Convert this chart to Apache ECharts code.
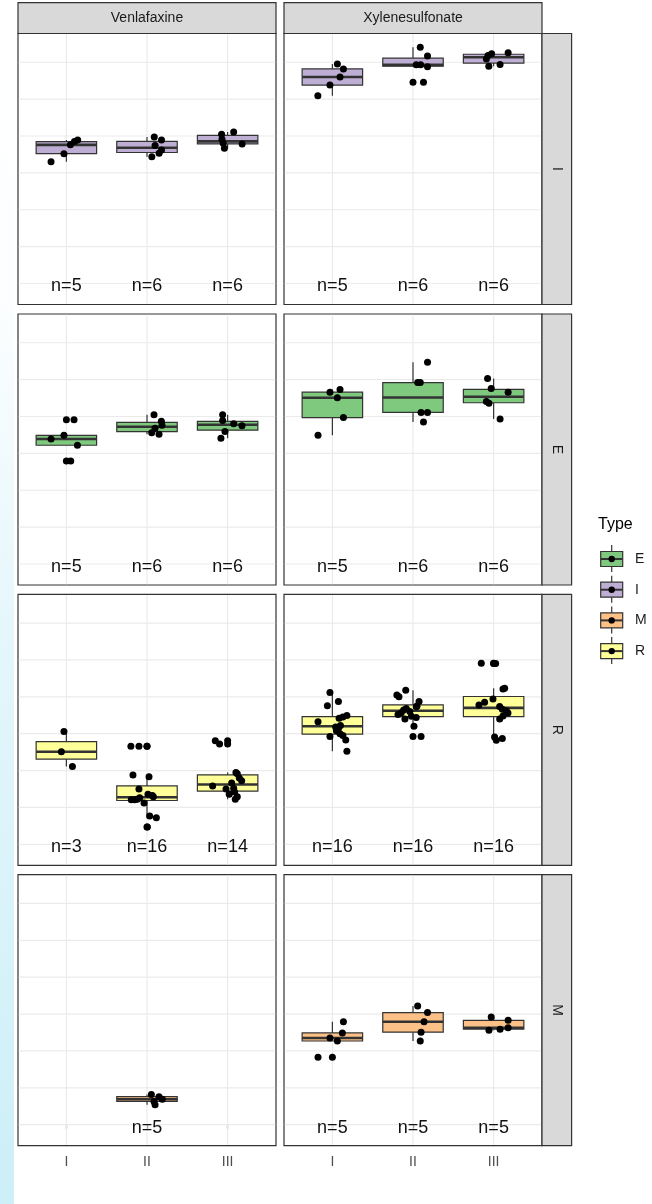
<!DOCTYPE html>
<html>
<head>
<meta charset="utf-8">
<title>Boxplots by stage, drug and type</title>
<script src="https://cdn.jsdelivr.net/npm/echarts@6/dist/echarts.min.js"></script>
<style>
  html, body { margin: 0; padding: 0; background: #ffffff; }
  #edge { position: absolute; left: 0; top: 0; width: 14px; height: 1204px;
          background: linear-gradient(to bottom, #ffffff 0%, #fcfeff 25%, #e3f6fb 55%, #cdeff8 100%); }
  #chart { position: absolute; left: 0; top: 0; width: 652px; height: 1204px; }
</style>
</head>
<body>
<div id="edge"></div>
<div id="chart"></div>
<script>
// ---- categories ----
const drugs = ['Venlafaxine', 'Xylenesulfonate'];   // facet columns
const rowTypes = ['I', 'E', 'R', 'M'];             // facet rows
const stages = ['I', 'II', 'III'];                 // x categories
const legendTypes = ['E', 'I', 'M', 'R'];
const typeColors = { E: '#7FC97F', I: '#BEAED4', M: '#FDC086', R: '#FFFF99' };
const gridValues = [0, 1, 2, 3, 4, 5, 6];

// ---- values per panel: one list per stage (I, II, III) ----
const venI = [
  [3.30, 3.52, 3.76, 3.85, 3.89],
  [3.97, 3.89, 3.74, 3.62, 3.53, 3.44],
  [4.05, 4.11, 3.91, 3.80, 3.67, 3.78]
];
const venE = [
  [3.91, 3.49, 3.39, 3.22, 2.79],
  [4.05, 3.87, 3.76, 3.68, 3.56, 3.52],
  [4.05, 3.89, 3.80, 3.75, 3.59, 3.41]
];
const venR = [
  [3.06, 2.51, 2.11],
  [2.66, 2.66, 1.88, 1.83, 1.50, 1.36, 1.32, 1.29, 1.26, 1.21, 1.21, 1.22, 1.12, 0.77, 0.72, 0.47],
  [2.81, 2.72, 1.22, 1.29, 1.36, 1.42, 1.50, 1.52, 1.58, 1.66, 1.72, 1.80, 1.91, 1.95]
];
const venM = [
  [],
  [0.82, 0.76, 0.69, 0.63, 0.54],
  []
];
const xylI = [
  [5.09, 5.38, 5.60, 5.82, 5.95],
  [6.41, 6.17, 5.93, 5.93, 5.88, 5.46],
  [6.26, 6.23, 6.18, 6.09, 5.89, 5.94]
];
const xylE = [
  [4.73, 4.66, 4.51, 3.97, 3.49],
  [5.47, 4.92, 4.92, 4.11, 4.11, 3.85],
  [5.03, 4.76, 4.66, 4.41, 4.36, 3.93]
];
const xylR = [
  [2.52, 2.83, 2.92, 2.95, 3.00, 3.08, 3.14, 3.18, 3.22, 3.32, 3.42, 3.45, 3.49, 3.76, 3.87, 4.12],
  [2.92, 3.20, 3.40, 3.44, 3.47, 3.52, 3.57, 3.60, 3.64, 3.68, 3.73, 3.75, 3.87, 4.00, 4.05, 4.18],
  [2.82, 2.87, 2.91, 3.40, 3.48, 3.56, 3.62, 3.66, 3.74, 3.78, 3.85, 3.94, 4.21, 4.23, 4.90, 4.91]
];
const xylM = [
  [2.79, 2.49, 2.35, 2.27, 1.83],
  [3.22, 3.04, 2.79, 2.51, 2.27],
  [2.92, 2.83, 2.63, 2.59, 2.56]
];

// ---- horizontal jitter of each point, in category units ----
const venIJitter = [
  [-0.19, -0.03, 0.05, 0.10, 0.14],
  [0.09, 0.18, 0.10, 0.18, 0.15, 0.06],
  [-0.075, 0.075, -0.07, -0.055, -0.04, 0.18]
];
const venEJitter = [
  [0.095, -0.03, -0.19, 0.137, 0.054],
  [0.087, 0.178, 0.186, 0.10, 0.058, 0.149],
  [-0.062, -0.062, 0.075, 0.178, -0.033, -0.083]
];
const venRJitter = [
  [-0.03, -0.062, 0.075],
  [-0.20, -0.10, -0.174, 0.025, -0.10, 0.012, 0.066, 0.079, -0.091, -0.195, -0.153, -0.12, -0.037, 0.033, 0.116, 0.004],
  [-0.153, -0.10, 0.095, 0.12, 0.02, 0.087, -0.02, 0.075, -0.186, 0.05, 0.174, 0.145, 0.12, 0.103]
];
const venMJitter = [
  [],
  [0.054, 0.149, 0.19, 0.087, 0.10],
  []
];
const xylIJitter = [
  [-0.18, -0.03, 0.095, 0.137, 0.062],
  [0.09, 0.18, 0.04, 0.095, 0.18, 0.13],
  [0.18, -0.025, -0.07, -0.09, -0.06, 0.08]
];
const xylEJitter = [
  [0.095, -0.03, 0.062, 0.137, -0.178],
  [0.18, 0.058, 0.09, 0.10, 0.18, 0.13],
  [-0.075, -0.03, 0.18, -0.09, -0.058, 0.08]
];
const xylRJitter = [
  [0.18, 0.166, -0.03, 0.13, 0.095, 0.05, 0.075, 0.04, 0.10, -0.178, 0.083, 0.13, 0.18, -0.062, 0.075, -0.03],
  [0.10, 0.012, -0.10, 0.04, -0.02, -0.186, -0.145, -0.04, -0.116, -0.083, 0.04, 0.05, 0.075, -0.174, -0.2, -0.09],
  [0.033, 0.108, 0.012, 0.075, 0.116, 0.178, 0.157, 0.108, 0.075, -0.182, -0.112, -0.008, 0.116, 0.137, 0.025, -0.153]
];
const xylMJitter = [
  [0.137, 0.124, -0.03, 0.062, -0.178],
  [0.058, 0.18, 0.137, 0.10, 0.09],
  [-0.03, 0.18, 0.18, 0.08, -0.058]
];

const panels = {
  Venlafaxine:     { I: [venI, venIJitter], E: [venE, venEJitter], R: [venR, venRJitter], M: [venM, venMJitter] },
  Xylenesulfonate: { I: [xylI, xylIJitter], E: [xylE, xylEJitter], R: [xylR, xylRJitter], M: [xylM, xylMJitter] }
};

// ---- layout and style ----
const FONT = '"Liberation Sans", Arial, Helvetica, sans-serif';
const colLeft = [18, 284];
const panelW = 258;
const rowTop = [33.5, 314, 594.3, 874.7];
const panelH = 271;
const yMin = -0.57, yMax = 6.78;
const xMin = 0.4, xMax = 3.6;
const nLabelY = -0.08;
const boxHalf = 0.375;
const INK = '#333333';

// ggplot-style (type 7) quantile
function quantile(sorted, p) {
  const h = (sorted.length - 1) * p;
  const lo = Math.floor(h);
  const hi = Math.min(lo + 1, sorted.length - 1);
  return sorted[lo] + (h - lo) * (sorted[hi] - sorted[lo]);
}
function boxStats(vals) {
  const s = vals.slice().sort((a, b) => a - b);
  const q1 = quantile(s, 0.25), med = quantile(s, 0.5), q3 = quantile(s, 0.75);
  const iqr = q3 - q1;
  const lf = q1 - 1.5 * iqr, uf = q3 + 1.5 * iqr;
  const inside = s.filter(v => v >= lf && v <= uf);
  return {
    q1, med, q3,
    lo: Math.min(...inside), hi: Math.max(...inside),
    out: s.filter(v => v < lf || v > uf)
  };
}

const grids = [], xAxes = [], yAxes = [], series = [], graphic = [];

rowTypes.forEach((type, r) => {
  drugs.forEach((drug, c) => {
    const idx = grids.length;
    const isBottom = r === rowTypes.length - 1;
    grids.push({
      left: colLeft[c], top: rowTop[r], width: panelW, height: panelH,
      show: true, backgroundColor: '#ffffff', borderColor: INK, borderWidth: 1.2
    });
    xAxes.push({
      gridIndex: idx, type: 'value', min: xMin, max: xMax,
      splitLine: { show: false }, axisLine: { show: false },
      axisTick: { show: isBottom, customValues: [1, 2, 3], length: 4, lineStyle: { color: INK, width: 1.2 } },
      axisLabel: {
        show: isBottom, customValues: [1, 2, 3], margin: 9,
        formatter: v => stages[Math.round(v) - 1] || '',
        color: '#4D4D4D', fontSize: 14, fontFamily: FONT
      }
    });
    yAxes.push({ gridIndex: idx, type: 'value', min: yMin, max: yMax, show: false });

    const [vals, jit] = panels[drug][type];
    const color = typeColors[type];
    const boxes = [], outliers = [], points = [], labels = [];
    vals.forEach((arr, i) => {
      if (!arr.length) return;
      const st = boxStats(arr);
      boxes.push([i + 1, st.lo, st.q1, st.med, st.q3, st.hi]);
      st.out.forEach(v => outliers.push([i + 1, v]));
      arr.forEach((v, j) => points.push([i + 1 + jit[i][j], v]));
      labels.push([i + 1, nLabelY, arr.length]);
    });

    // panel grid lines
    series.push({
      type: 'custom', xAxisIndex: idx, yAxisIndex: idx, silent: true, z: 1,
      data: gridValues.map(v => [0, v]).concat(stages.map((s, i) => [1, i + 1])),
      renderItem(params, api) {
        const cs = params.coordSys;
        const kind = api.value(0), v = api.value(1);
        const st = { stroke: '#EBEBEB', lineWidth: 1.2 };
        if (kind === 0) {
          const y = api.coord([1, v])[1];
          return { type: 'line', shape: { x1: cs.x + 0.7, y1: y, x2: cs.x + cs.width - 0.7, y2: y }, style: st };
        }
        const x = api.coord([v, 0])[0];
        return { type: 'line', shape: { x1: x, y1: cs.y + 0.7, x2: x, y2: cs.y + cs.height - 0.7 }, style: st };
      }
    });

    // boxes and whiskers
    series.push({
      type: 'custom', xAxisIndex: idx, yAxisIndex: idx, silent: true, z: 2,
      data: boxes,
      renderItem(params, api) {
        const x = api.value(0);
        const pLo = api.coord([x, api.value(1)]);
        const pQ1 = api.coord([x, api.value(2)]);
        const pMed = api.coord([x, api.value(3)]);
        const pQ3 = api.coord([x, api.value(4)]);
        const pHi = api.coord([x, api.value(5)]);
        const xl = api.coord([x - boxHalf, 0])[0];
        const xr = api.coord([x + boxHalf, 0])[0];
        const ln = { stroke: INK, lineWidth: 1.2 };
        return {
          type: 'group',
          children: [
            { type: 'line', shape: { x1: pLo[0], y1: pLo[1], x2: pQ1[0], y2: pQ1[1] }, style: ln },
            { type: 'line', shape: { x1: pQ3[0], y1: pQ3[1], x2: pHi[0], y2: pHi[1] }, style: ln },
            { type: 'rect', shape: { x: xl, y: pQ3[1], width: xr - xl, height: pQ1[1] - pQ3[1] },
              style: { fill: color, stroke: INK, lineWidth: 1.2 } },
            { type: 'line', shape: { x1: xl, y1: pMed[1], x2: xr, y2: pMed[1] }, style: { stroke: INK, lineWidth: 2.6 } }
          ]
        };
      }
    });

    // outliers drawn on the box centre line
    series.push({
      type: 'scatter', xAxisIndex: idx, yAxisIndex: idx, silent: true, z: 3,
      data: outliers, symbol: 'circle', symbolSize: 7,
      itemStyle: { color: '#000000', opacity: 1 }
    });

    // jittered observations
    series.push({
      type: 'scatter', xAxisIndex: idx, yAxisIndex: idx, silent: true, z: 4,
      data: points, symbol: 'circle', symbolSize: 7,
      itemStyle: { color: '#000000', opacity: 1 }
    });

    // sample size labels
    series.push({
      type: 'custom', xAxisIndex: idx, yAxisIndex: idx, silent: true, z: 5,
      data: labels,
      renderItem(params, api) {
        const p = api.coord([api.value(0), api.value(1)]);
        return {
          type: 'text', x: p[0], y: p[1],
          style: { text: 'n=' + api.value(2), fill: '#111111', fontSize: 18, fontFamily: FONT,
                   align: 'center', verticalAlign: 'middle' }
        };
      }
    });
  });
});

// column strips
drugs.forEach((drug, c) => {
  graphic.push({
    type: 'rect', silent: true, z: 10,
    shape: { x: colLeft[c], y: 2.7, width: panelW, height: rowTop[0] - 2.7 },
    style: { fill: '#D9D9D9', stroke: INK, lineWidth: 1.2 }
  });
  graphic.push({
    type: 'text', silent: true, z: 11,
    x: colLeft[c] + panelW / 2, y: (2.7 + rowTop[0]) / 2,
    style: { text: drug, fill: '#1A1A1A', fontSize: 14, fontFamily: FONT, align: 'center', verticalAlign: 'middle' }
  });
});

// row strips
const stripX = colLeft[1] + panelW;
const stripW = 29.6;
rowTypes.forEach((type, r) => {
  graphic.push({
    type: 'rect', silent: true, z: 10,
    shape: { x: stripX, y: rowTop[r], width: stripW, height: panelH },
    style: { fill: '#D9D9D9', stroke: INK, lineWidth: 1.2 }
  });
  graphic.push({
    type: 'text', silent: true, z: 11, rotation: -Math.PI / 2,
    x: stripX + stripW / 2, y: rowTop[r] + panelH / 2,
    style: { text: type, fill: '#1A1A1A', fontSize: 14, fontFamily: FONT, align: 'center', verticalAlign: 'middle' }
  });
});

// legend
const legX = 600.7, legKeyW = 22, legKeyH = 15, legTop = 559, legStep = 30.7;
graphic.push({
  type: 'text', silent: true, z: 10, x: 598, y: 525,
  style: { text: 'Type', fill: '#000000', fontSize: 16, fontFamily: FONT, align: 'left', verticalAlign: 'middle' }
});
legendTypes.forEach((t, k) => {
  const cy = legTop + legStep * k;
  const cx = legX + legKeyW / 2;
  graphic.push({
    type: 'group', silent: true, z: 10,
    children: [
      { type: 'line', shape: { x1: cx, y1: cy - 14, x2: cx, y2: cy + 13 }, style: { stroke: INK, lineWidth: 1.2 } },
      { type: 'rect', shape: { x: legX, y: cy - legKeyH / 2, width: legKeyW, height: legKeyH },
        style: { fill: typeColors[t], stroke: INK, lineWidth: 1.2 } },
      { type: 'line', shape: { x1: legX, y1: cy, x2: legX + legKeyW, y2: cy }, style: { stroke: INK, lineWidth: 2 } },
      { type: 'circle', shape: { cx: cx, cy: cy, r: 3.2 }, style: { fill: '#000000' } },
      { type: 'text', x: 635, y: cy,
        style: { text: t, fill: '#1A1A1A', fontSize: 14, fontFamily: FONT, align: 'left', verticalAlign: 'middle' } }
    ]
  });
});

const chart = echarts.init(document.getElementById('chart'), null, { renderer: 'canvas' });
chart.setOption({
  animation: false,
  backgroundColor: 'transparent',
  grid: grids,
  xAxis: xAxes,
  yAxis: yAxes,
  series: series,
  graphic: graphic
});
</script>
</body>
</html>
